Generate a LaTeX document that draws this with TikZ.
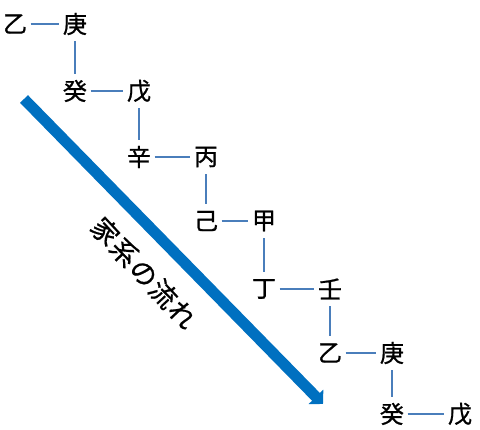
\documentclass[tikz,border=0pt]{standalone}
\usepackage{fontspec}
\newfontfamily\cjk[UprightFeatures={FakeBold=0.9}]{Noto Sans CJK JP}
\newfontfamily\cjkspaced[LetterSpace=5,UprightFeatures={FakeBold=0.6}]{Noto Sans CJK JP}
\usetikzlibrary{arrows.meta}
\definecolor{linkblue}{HTML}{4A7EBB}
\definecolor{flowblue}{HTML}{0070C0}
\begin{document}
\begin{tikzpicture}[x=1pt,y=-1pt,
  kan/.style={font=\cjk\fontsize{24}{24}\selectfont, inner sep=0pt, minimum width=31pt, minimum height=34pt},
  link/.style={draw=linkblue, line width=1.6pt},
  flow/.style={draw=flowblue, line width=11pt, -{Triangle[width=20pt,length=10pt]}},
  flowlabel/.style={font=\cjkspaced\fontsize{27}{27}\selectfont, inner sep=0pt}]
\useasboundingbox (0,0) rectangle (480,430);
\node[kan] (a1) at (15,24) {乙};
\node[kan] (a2) at (75,24) {庚};
\node[kan] (a3) at (75,91) {癸};
\node[kan] (a4) at (139,91) {戊};
\node[kan] (a5) at (139,157) {辛};
\node[kan] (a6) at (206,157) {丙};
\node[kan] (a7) at (206,221) {己};
\node[kan] (a8) at (264,221) {甲};
\node[kan] (a9) at (264,289) {丁};
\node[kan] (a10) at (330,289) {壬};
\node[kan] (a11) at (330,353) {乙};
\node[kan] (a12) at (392,353) {庚};
\node[kan] (a13) at (392,414) {癸};
\node[kan] (a14) at (460,414) {戊};
\draw[link] (a1) -- (a2);
\draw[link] (a2) -- (a3);
\draw[link] (a3) -- (a4);
\draw[link] (a4) -- (a5);
\draw[link] (a5) -- (a6);
\draw[link] (a6) -- (a7);
\draw[link] (a7) -- (a8);
\draw[link] (a8) -- (a9);
\draw[link] (a9) -- (a10);
\draw[link] (a10) -- (a11);
\draw[link] (a11) -- (a12);
\draw[link] (a12) -- (a13);
\draw[link] (a13) -- (a14);
\coordinate (fs) at (24,99);
\coordinate (ft) at (323,404);
\draw[flow] (fs) -- (ft);
\node[flowlabel, rotate=-47] (lbl) at (144,273) {家系の流れ};
\end{tikzpicture}
\end{document}
